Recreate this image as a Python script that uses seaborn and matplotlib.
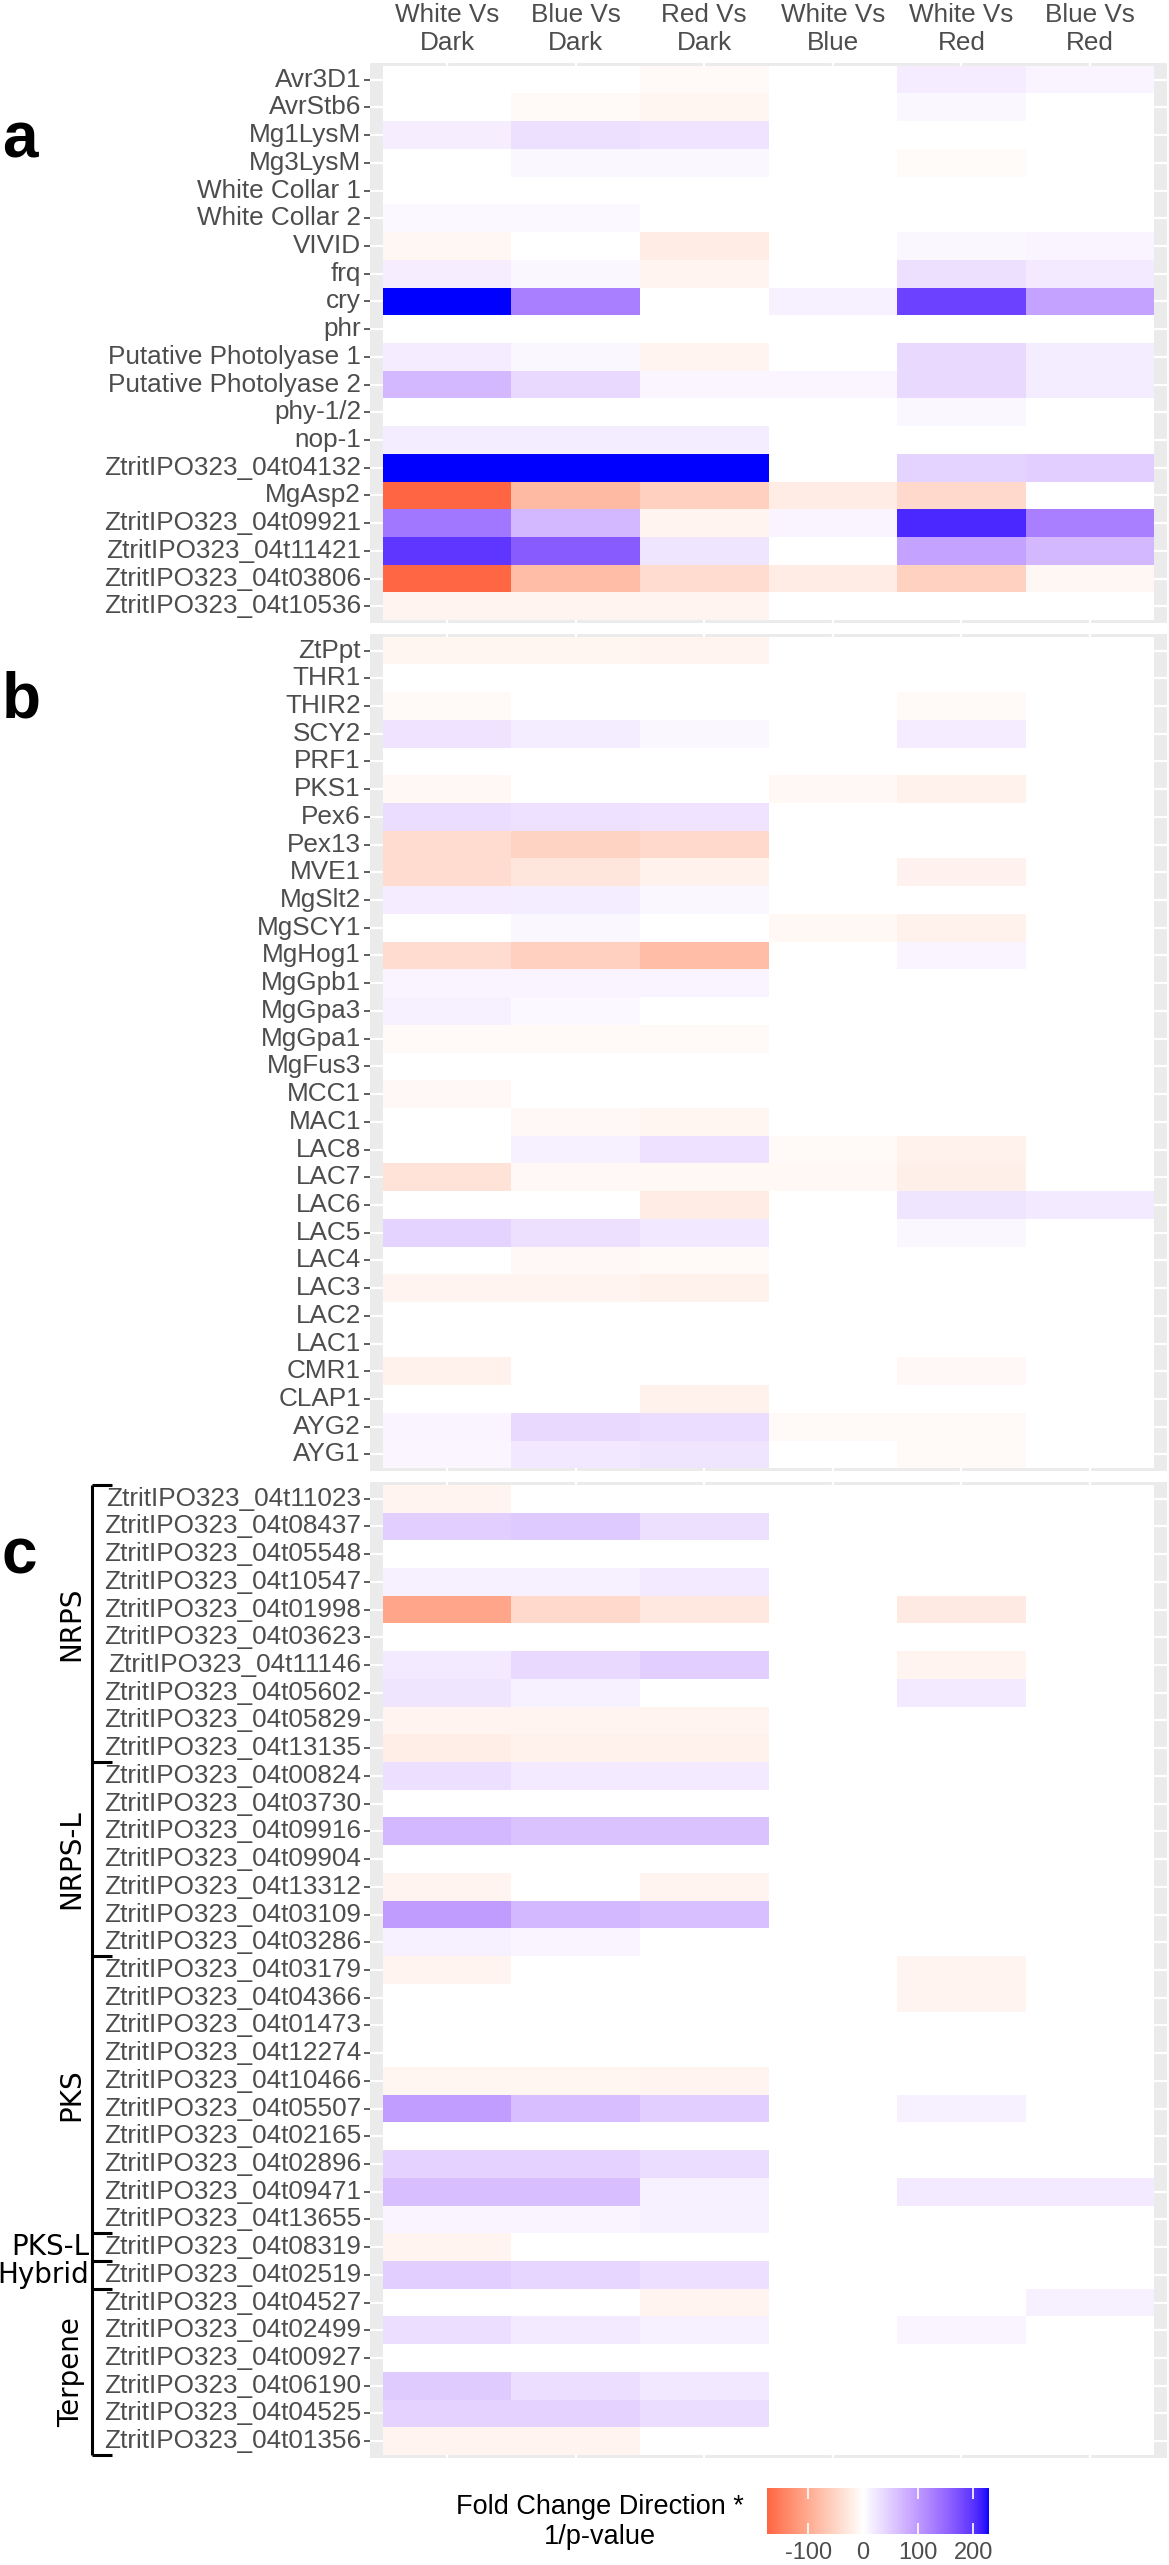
import numpy as np
import pandas as pd
import seaborn as sns
import matplotlib
matplotlib.use("Agg")
import matplotlib.pyplot as plt
from matplotlib import transforms
from matplotlib.colors import ListedColormap, Normalize, to_rgb
from matplotlib.cm import ScalarMappable

plt.rcParams['font.family'] = ['Liberation Sans', 'DejaVu Sans']
plt.rcParams['axes.unicode_minus'] = False

comparisons = ["White Vs\nDark", "Blue Vs\nDark", "Red Vs\nDark",
               "White Vs\nBlue", "White Vs\nRed", "Blue Vs\nRed"]

# panel a: light related genes
genes_a = ["Avr3D1", "AvrStb6", "Mg1LysM", "Mg3LysM", "White Collar 1",
           "White Collar 2", "VIVID", "frq", "cry", "phr",
           "Putative Photolyase 1", "Putative Photolyase 2", "phy-1/2", "nop-1",
           "ZtritIPO323_04t04132", "MgAsp2", "ZtritIPO323_04t09921",
           "ZtritIPO323_04t11421", "ZtritIPO323_04t03806", "ZtritIPO323_04t10536"]
values_a = [
    [0, 0, -7, 0, 17, 11],
    [0, -7, -12, 0, 8, 0],
    [16, 30, 27, 0, 0, 0],
    [0, 8, 8, 0, -5, 0],
    [0, 0, 0, 0, 0, 0],
    [7, 7, 0, 0, 0, 0],
    [-10, 0, -22, 0, 8, 11],
    [16, 8, -13, 0, 30, 20],
    [229, 127, 0, 15, 187, 91],
    [0, 0, 0, 0, 0, 0],
    [17, 8, -13, 0, 37, 19],
    [71, 37, 9, 9, 37, 19],
    [0, 0, 0, 0, 8, 0],
    [19, 19, 19, 0, 0, 0],
    [229, 229, 229, 0, 43, 46],
    [-175, -82, -57, -23, -46, 0],
    [135, 71, -13, 11, 208, 127],
    [196, 162, 25, 0, 91, 69],
    [-173, -80, -42, -22, -55, -10],
    [-13, -13, -13, 0, 0, 0],
]

# panel b: pathogenicity / melanin genes
genes_b = ["ZtPpt", "THR1", "THIR2", "SCY2", "PRF1", "PKS1", "Pex6", "Pex13",
           "MVE1", "MgSlt2", "MgSCY1", "MgHog1", "MgGpb1", "MgGpa3", "MgGpa1",
           "MgFus3", "MCC1", "MAC1", "LAC8", "LAC7", "LAC6", "LAC5", "LAC4",
           "LAC3", "LAC2", "LAC1", "CMR1", "CLAP1", "AYG2", "AYG1"]
values_b = [
    [-12, -12, -13, 0, 0, 0],
    [0, 0, 0, 0, 0, 0],
    [-6, 0, 0, 0, -7, 0],
    [27, 19, 8, 0, 17, 0],
    [0, 0, 0, 0, 0, 0],
    [-9, 0, 0, -9, -16, 0],
    [33, 29, 27, 0, 0, 0],
    [-42, -52, -46, 0, 0, 0],
    [-42, -30, -16, 0, -15, 0],
    [17, 19, 8, 0, 0, 0],
    [0, 8, 0, -9, -16, 0],
    [-42, -57, -80, 0, 11, 0],
    [11, 11, 11, 0, 0, 0],
    [15, 7, 0, 0, 0, 0],
    [-6, -6, -7, 0, 0, 0],
    [0, 0, 0, 0, 0, 0],
    [-8, 0, 0, 0, 0, 0],
    [0, -8, -11, 0, 0, 0],
    [0, 15, 29, -6, -16, 0],
    [-34, -8, -9, -9, -19, 0],
    [0, 0, -23, 0, 25, 20],
    [43, 30, 22, 0, 8, 0],
    [0, -8, -7, 0, 0, 0],
    [-13, -13, -16, 0, 0, 0],
    [0, 0, 0, 0, 0, 0],
    [0, 0, 0, 0, 0, 0],
    [-16, 0, 0, 0, -8, 0],
    [0, 0, -16, 0, 0, 0],
    [11, 37, 33, -6, -6, 0],
    [9, 22, 25, 0, -7, 0],
]

# panel c: secondary metabolite core genes
genes_c = ["ZtritIPO323_04t" + s for s in [
    "11023", "08437", "05548", "10547", "01998", "03623", "11146", "05602",
    "05829", "13135", "00824", "03730", "09916", "09904", "13312", "03109",
    "03286", "03179", "04366", "01473", "12274", "10466", "05507", "02165",
    "02896", "09471", "13655", "08319", "02519", "04527", "02499", "00927",
    "06190", "04525", "01356"]]
values_c = [
    [-13, 0, 0, 0, 0, 0],
    [46, 52, 30, 0, 0, 0],
    [0, 0, 0, 0, 0, 0],
    [15, 15, 20, 0, 0, 0],
    [-106, -46, -28, 0, -25, 0],
    [0, 0, 0, 0, 0, 0],
    [20, 37, 46, 0, -13, 0],
    [25, 15, 0, 0, 20, 0],
    [-13, -13, -13, 0, 0, 0],
    [-20, -16, -16, 0, 0, 0],
    [31, 20, 20, 0, 0, 0],
    [0, 0, 0, 0, 0, 0],
    [69, 60, 60, 0, 0, 0],
    [0, 0, 0, 0, 0, 0],
    [-13, 0, -13, 0, 0, 0],
    [98, 69, 63, 0, 0, 0],
    [15, 11, 0, 0, 0, 0],
    [-13, 0, 0, 0, -13, 0],
    [0, 0, 0, 0, -13, 0],
    [0, 0, 0, 0, 0, 0],
    [0, 0, 0, 0, 0, 0],
    [-12, -12, -13, 0, 0, 0],
    [96, 64, 46, 0, 15, 0],
    [0, 0, 0, 0, 0, 0],
    [44, 44, 33, 0, 0, 0],
    [64, 64, 15, 0, 20, 20],
    [11, 11, 15, 0, 0, 0],
    [-13, 0, 0, 0, 0, 0],
    [47, 40, 31, 0, 0, 0],
    [0, 0, -13, 0, 0, 15],
    [32, 20, 15, 0, 11, 0],
    [0, 0, 0, 0, 0, 0],
    [51, 32, 22, 0, 0, 0],
    [44, 44, 33, 0, 0, 0],
    [-13, -13, 0, 0, 0, 0],
]

groups_c = ["NRPS", "NRPS-L", "PKS", "PKS-L", "Hybrid", "Terpene"]
group_sizes = [10, 7, 10, 1, 1, 6]
cbar_ticks = [-100, 0, 100, 200]


# ggplot-like gradient2 (red - white - blue, interpolated in Lab)
M = np.array([[0.4124, 0.3576, 0.1805],
              [0.2126, 0.7152, 0.0722],
              [0.0193, 0.1192, 0.9505]])
WP = np.array([0.95047, 1.0, 1.08883])


def to_lab(col):
    rgb = np.array(to_rgb(col))
    lin = np.where(rgb <= 0.04045, rgb / 12.92, ((rgb + 0.055) / 1.055) ** 2.4)
    xyz = M @ lin / WP
    f = np.where(xyz > 0.008856, np.cbrt(xyz), 7.787 * xyz + 16 / 116)
    return np.array([116 * f[1] - 16, 500 * (f[0] - f[1]), 200 * (f[1] - f[2])])


def from_lab(lab):
    fy = (lab[0] + 16) / 116
    f = np.array([fy + lab[1] / 500, fy, fy - lab[2] / 200])
    xyz = np.where(f ** 3 > 0.008856, f ** 3, (f - 16 / 116) / 7.787) * WP
    lin = np.clip(np.linalg.solve(M, xyz), 0, 1)
    rgb = np.where(lin <= 0.0031308, 12.92 * lin, 1.055 * lin ** (1 / 2.4) - 0.055)
    return np.clip(rgb, 0, 1)


all_vals = np.array(values_a + values_b + values_c, dtype=float)
vmin, vmax = all_vals.min(), all_vals.max()
ext = max(abs(vmin), abs(vmax))
lw_, lr_, lb_ = to_lab("white"), to_lab("red"), to_lab("blue")
cols = []
for v in np.linspace(vmin, vmax, 512):
    t = v / ext
    lab = lw_ + (lr_ - lw_) * (-t) if t < 0 else lw_ + (lb_ - lw_) * t
    cols.append(from_lab(lab))
cmap = ListedColormap(cols)

W, H = 1169, 2565
fig = plt.figure(figsize=(W / 100, H / 100), dpi=100)
unit = 27.72
x_left, x_right = 370, 1167
panels = [(genes_a, values_a), (genes_b, values_b), (genes_c, values_c)]
axes = []
top = 63
for genes, vals in panels:
    h = (len(genes) + 0.2) * unit
    ax = fig.add_axes([x_left / W, 1 - (top + h) / H, (x_right - x_left) / W, h / H])
    df = pd.DataFrame(vals, index=genes, columns=comparisons)
    sns.heatmap(df, ax=ax, cmap=cmap, vmin=vmin, vmax=vmax, cbar=False,
                xticklabels=True, yticklabels=True)
    ax.set_xlim(-0.1, 6.1)
    ax.set_ylim(len(genes) + 0.1, -0.1)
    ax.set_facecolor("#EBEBEB")
    ax.grid(True, color="white", linewidth=1.6)
    ax.set_axisbelow(True)
    ax.set_xlabel("")
    ax.set_ylabel("")
    ax.set_yticklabels(genes, rotation=0, fontsize=18.8, color="#4D4D4D")
    ax.tick_params(axis="y", length=4.5, width=1.1, color="#333333", pad=2)
    axes.append(ax)
    top += h + 11

ax_a, ax_b, ax_c = axes
ax_a.xaxis.tick_top()
ax_a.set_xticklabels(comparisons, rotation=0, fontsize=18.8, color="#4D4D4D",
                     linespacing=1.2)
ax_a.tick_params(axis="x", length=0, pad=6)
for ax in (ax_b, ax_c):
    ax.tick_params(axis="x", length=0, labelbottom=False)

# panel letters
fig.text(2 / W, 1 - 157 / H, "a", fontsize=46, fontweight="bold", va="baseline")
fig.text(2 / W, 1 - 718 / H, "b", fontsize=46, fontweight="bold", va="baseline")
fig.text(2 / W, 1 - 1573 / H, "c", fontsize=46, fontweight="bold", va="baseline")

# group brackets next to panel c
tr = transforms.blended_transform_factory(fig.transFigure, ax_c.transData)
bounds = np.concatenate([[0], np.cumsum(group_sizes)])
ax_c.plot([92 / W, 92 / W], [bounds[0], bounds[-1]], transform=tr, color="black",
          lw=2.2, clip_on=False, solid_capstyle="butt")
for b in bounds:
    ax_c.plot([92 / W, 112 / W], [b, b], transform=tr, color="black", lw=2.2,
              clip_on=False, solid_capstyle="butt")
for name, lo, size in zip(groups_c, bounds[:-1], group_sizes):
    mid = lo + size / 2
    if size > 1:
        ax_c.text(71 / W, mid, name, transform=tr, rotation=90, ha="center",
                  va="center", fontsize=20, family="DejaVu Sans")
    else:
        ax_c.text(89 / W, mid, name, transform=tr, ha="right", va="center",
                  fontsize=20, family="DejaVu Sans")

# colour bar legend
cax = fig.add_axes([767 / W, 1 - 2534 / H, 222 / W, 46 / H])
sm = ScalarMappable(norm=Normalize(vmin, vmax), cmap=cmap)
cb = fig.colorbar(sm, cax=cax, orientation="horizontal", ticks=cbar_ticks)
cb.outline.set_visible(False)
cax.tick_params(axis="x", direction="in", color="white", length=8, width=1.2,
                top=True, labelsize=17, labelcolor="#4D4D4D", pad=6)
fig.text(600 / W, 1 - 2522 / H, "Fold Change Direction *\n1/p-value", ha="center",
         va="center", fontsize=19.5, linespacing=1.25)

fig.savefig("out.png", dpi=100)
